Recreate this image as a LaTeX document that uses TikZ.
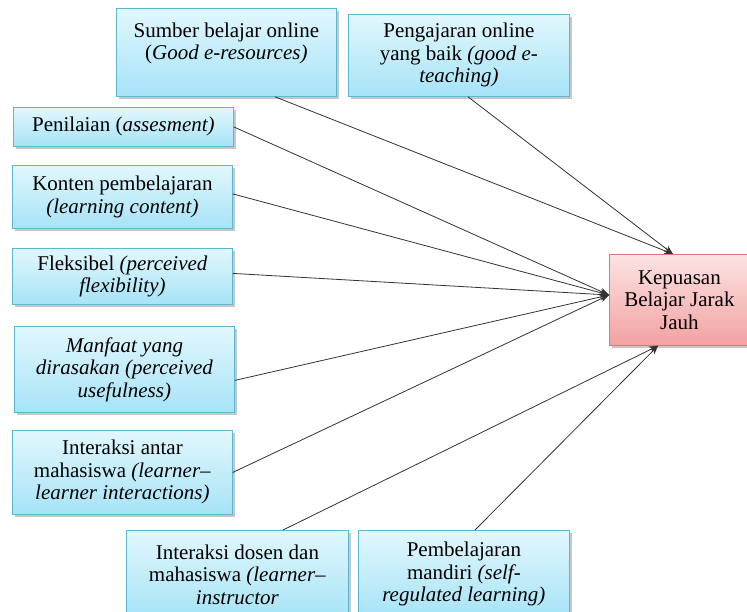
\documentclass[tikz,border=0pt]{standalone}
\usepackage{fontspec}
\setmainfont{Liberation Serif}
\newfontfamily\tnr{Liberation Serif}
\usetikzlibrary{shadows,calc,arrows.meta}
\definecolor{cyantop}{HTML}{E2F7FD}
\definecolor{cyanbot}{HTML}{A6E3F7}
\definecolor{cyanline}{HTML}{5CB8D2}
\definecolor{pinktop}{HTML}{FDE3E3}
\definecolor{pinkbot}{HTML}{F3A1A1}
\definecolor{pinkline}{HTML}{D77A7A}
\newcommand{\bfsz}{\tnr\fontsize{21}{22.5}\selectfont}
\tikzset{
  bx/.style={draw=cyanline, line width=0.8pt, top color=cyantop, bottom color=cyanbot,
    align=center, anchor=north west, inner sep=2pt, font=\bfsz,
    drop shadow={shadow xshift=2.5pt, shadow yshift=-2.5pt, fill=black, opacity=0.22}},
  tgt/.style={bx, draw=pinkline, top color=pinktop, bottom color=pinkbot},
  conn/.style={draw=black!80, line width=0.8pt, -{Stealth[length=9pt,width=7pt]}}
}
\begin{document}
\begin{tikzpicture}[x=1pt,y=-1pt]
\useasboundingbox (0,0) rectangle (747,611);
\clip (0,0) rectangle (747,611);
\fill[white] (0,0) rectangle (747,611);
\node[bx, minimum width=220pt, minimum height=88pt] (sumber) at (116,8)
  {Sumber belajar online\\(\textit{Good e-resources)}\\\mbox{}};
\node[bx, minimum width=221pt, minimum height=82pt] (peng) at (348,14)
  {Pengajaran online\\yang baik \textit{(good e-}\\\textit{teaching)}};
\node[bx, minimum width=220pt, minimum height=39pt] (penilaian) at (13,107)
  {Penilaian (\textit{assesment)}};
\node[bx, minimum width=220pt, minimum height=63pt] (konten) at (12,165)
  {Konten pembelajaran\\\textit{(learning content)}};
\node[bx, minimum width=220pt, minimum height=56pt] (fleks) at (12,248)
  {Fleksibel \textit{(perceived}\\\textit{flexibility)}};
\node[bx, minimum width=220pt, minimum height=86pt] (manfaat) at (14,326)
  {\textit{Manfaat yang}\\\textit{dirasakan (perceived}\\\textit{usefulness)}};
\node[bx, minimum width=220pt, minimum height=84pt] (antar) at (12,430)
  {Interaksi antar\\mahasiswa \textit{(learner–}\\\textit{learner interactions)}};
\node[bx, minimum width=222pt, minimum height=88pt] (dosen) at (126,530)
  {Interaksi dosen dan\\mahasiswa \textit{(learner–}\\\textit{instructor}};
\node[bx, minimum width=211pt, minimum height=88pt] (mandiri) at (358,530)
  {Pembelajaran\\mandiri \textit{(self-}\\\textit{regulated learning)}};
\node[tgt, minimum width=140pt, minimum height=91pt] (kep) at (609,254)
  {Kepuasan\\Belajar Jarak\\Jauh};
\coordinate (ktop) at ($(kep.north west)+(64,0)$);
\coordinate (kleft) at ($(kep.north west)+(0,41)$);
\coordinate (kbot) at ($(kep.south west)+(49,0)$);
\draw[conn] ($(sumber.south west)+(159,0)$) -- (ktop);
\draw[conn] ($(peng.south west)+(120,0)$) -- (ktop);
\draw[conn] (penilaian.east) -- (kleft);
\draw[conn] ($(konten.east)+(0,-3)$) -- (kleft);
\draw[conn] ($(fleks.east)+(0,-3)$) -- (kleft);
\draw[conn] ($(manfaat.east)+(0,11)$) -- (kleft);
\draw[conn] (antar.east) -- (kleft);
\draw[conn] ($(dosen.north west)+(157,0)$) -- (kbot);
\draw[conn] ($(mandiri.north west)+(117,0)$) -- (kbot);
\end{tikzpicture}
\end{document}
